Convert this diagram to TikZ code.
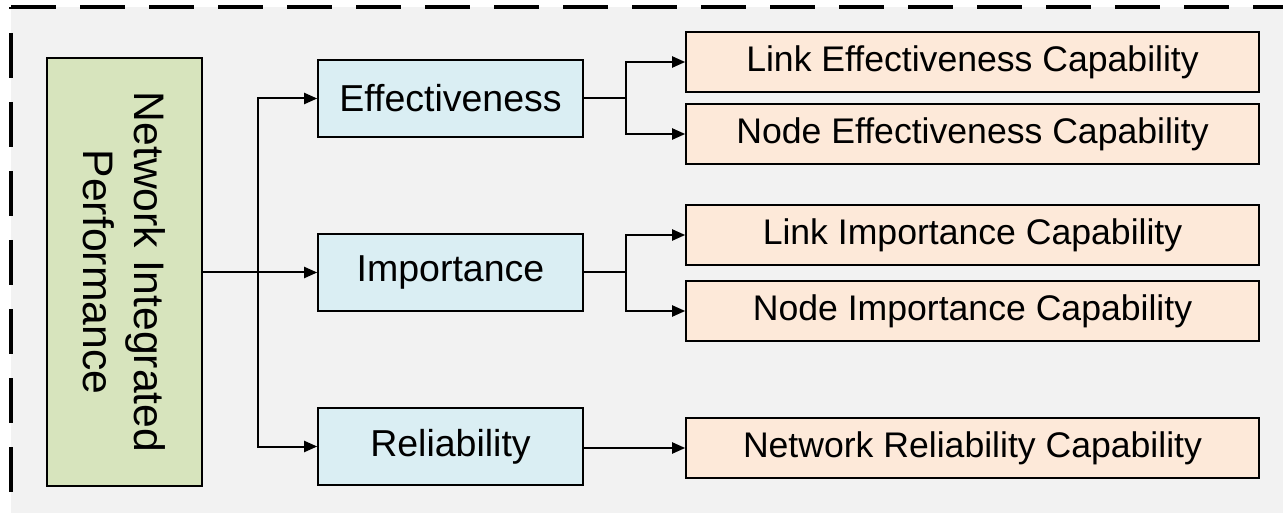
\documentclass[tikz,border=0pt]{standalone}
\usepackage{fontspec}
\setmainfont{Liberation Sans}
\usetikzlibrary{arrows.meta}
\definecolor{bggray}{HTML}{F2F2F2}
\definecolor{topgreen}{HTML}{D7E4BD}
\definecolor{midblue}{HTML}{DAEEF3}
\definecolor{leaforange}{HTML}{FDE9D9}
\begin{document}
\begin{tikzpicture}[x=1pt, y=-1pt, line width=2pt,
		every node/.style={draw=black, line width=1.6pt, inner sep=0pt, align=center},
		aspect/.style={fill=midblue, minimum width=265pt, minimum height=77pt, font=\fontsize{37.5}{45}\selectfont},
		capab/.style={fill=leaforange, minimum width=573pt, minimum height=60pt, font=\fontsize{35.6}{42.7}\selectfont},
		conn/.style={-{Triangle[length=13pt, width=11pt]}},
		frameline/.style={line width=3.2pt, dash pattern=on 45pt off 24pt}]
		% \draw[help lines] (0,0) grid (1283,513);
		\useasboundingbox (0,0) rectangle (1283,513);
		\fill[bggray] (11,7) rectangle (1283,513);
		\draw[frameline] (11,7) -- (1290,7);
		\draw[frameline, dash phase=43pt] (11,7) -- (11,520);

		\node[fill=topgreen, rotate=-90, minimum width=428pt, minimum height=155pt,
			font=\fontsize{42.7}{51.2}\selectfont] (nip) at (124.5,272) {Network Integrated\\Performance};

		\node[aspect] (eff) at (450.5,98.5) {Effectiveness};
		\node[aspect] (imp) at (450.5,272.5) {Importance};
		\node[aspect] (rel) at (450.5,446.5) {Reliability};

		\node[capab] (lec) at (972.5,62) {Link Effectiveness Capability};
		\node[capab] (nec) at (972.5,134) {Node Effectiveness Capability};
		\node[capab] (lic) at (972.5,235) {Link Importance Capability};
		\node[capab] (nic) at (972.5,311) {Node Importance Capability};
		\node[capab] (nrc) at (972.5,448) {Network Reliability Capability};

		\coordinate (trunk) at (258,272.5);
		\coordinate (je) at (626,98.5);
		\coordinate (ji) at (626,272.5);

		\draw[conn] (nip.north |- imp.west) -- (imp.west);
		\draw[conn] (trunk) |- (eff.west);
		\draw[conn] (trunk) |- (rel.west);

		\draw (eff.east) -- (je);
		\draw[conn] (je) |- (lec.west);
		\draw[conn] (je) |- (nec.west);
		\draw (imp.east) -- (ji);
		\draw[conn] (ji) |- (lic.west);
		\draw[conn] (ji) |- (nic.west);
		\draw[conn] (rel.east |- nrc) -- (nrc.west);
	\end{tikzpicture}
\end{document}
